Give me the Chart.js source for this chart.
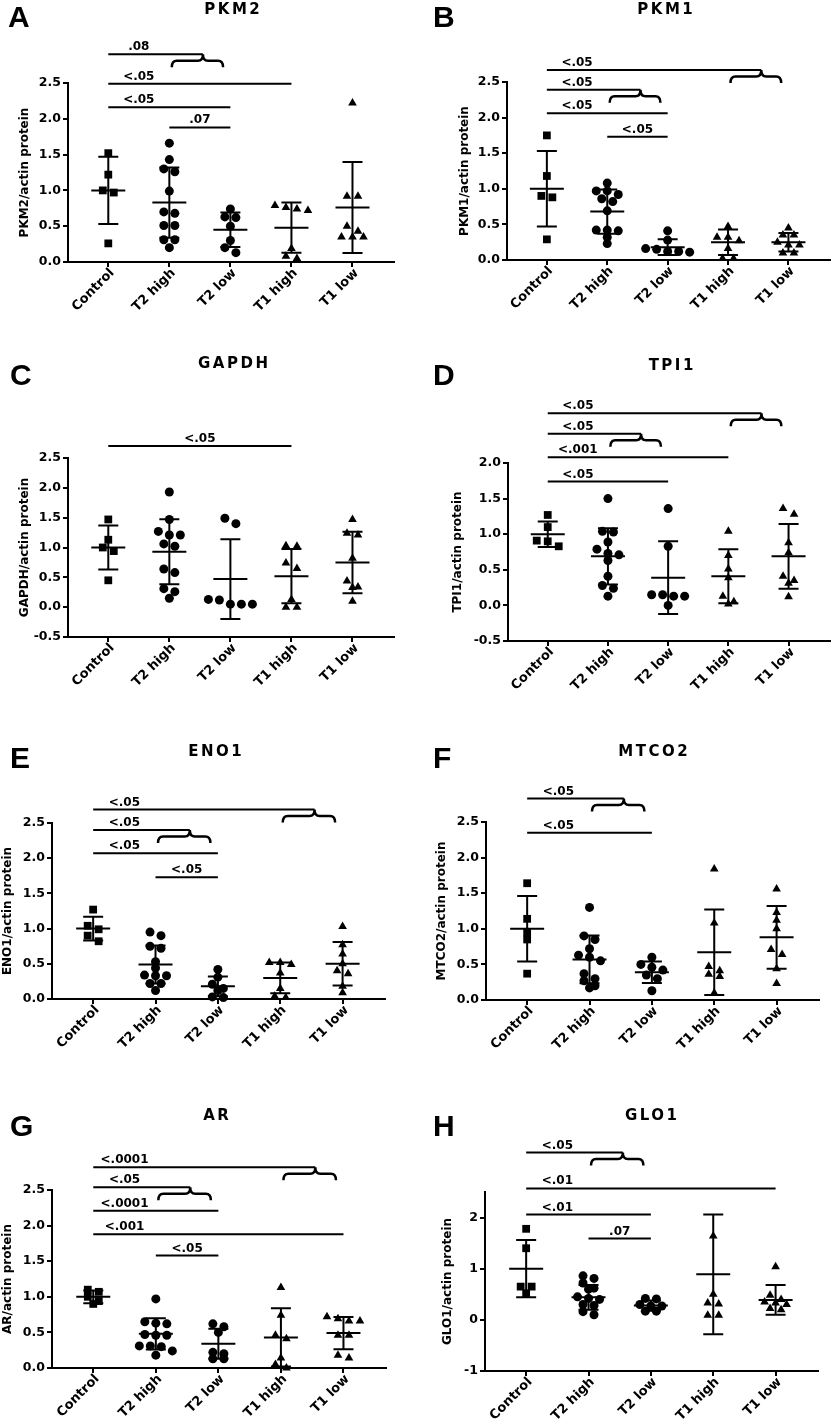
<!DOCTYPE html>
<html>
<head>
<meta charset="utf-8">
<script src="https://cdn.jsdelivr.net/npm/chart.js@4.4.1/dist/chart.umd.min.js"></script>
<style>
html, body { margin: 0; padding: 0; background: #fff; }
body { width: 835px; height: 1420px; position: relative; overflow: hidden; }
canvas { position: absolute; }
.letter { position: absolute; font: bold 30px "Liberation Sans", Arial, sans-serif; line-height: 30px; color: #000; }
.gene { position: absolute; font: bold 15px "DejaVu Sans", sans-serif; letter-spacing: 2.5px; line-height: 15px;
        color: #000; transform: translateX(-50%); white-space: nowrap; padding-left: 2.5px; }
</style>
</head>
<body>
<script>
const groupLabels = ['Control', 'T2 high', 'T2 low', 'T1 high', 'T1 low'];
const groupShapes = ['rect', 'circle', 'circle', 'triangle', 'triangle'];

// PKM2
const pkm2Points = [
    [1.52, 1.22, 1.00, 0.97, 0.26],
    [1.66, 1.43, 1.30, 1.26, 0.99, 0.70, 0.68, 0.51, 0.51, 0.31, 0.31, 0.20],
    [0.74, 0.63, 0.62, 0.50, 0.30, 0.20, 0.13],
    [0.79, 0.76, 0.74, 0.72, 0.19, 0.08, 0.05],
    [2.22, 0.92, 0.92, 0.50, 0.43, 0.35, 0.35, 0.35]
];
const pkm2Mean = [1.00, 0.83, 0.45, 0.48, 0.76];
const pkm2Sd = [0.47, 0.49, 0.24, 0.35, 0.635];
const pkm2Brackets = [[0, [1, 2], 2.90, '.08'], [0, 3, 2.49, '<.05'], [0, 2, 2.16, '<.05'], [1, 2, 1.88, '.07']];

// PKM1
const pkm1Points = [
    [1.75, 1.18, 0.90, 0.88, 0.29],
    [1.08, 0.97, 0.97, 0.92, 0.86, 0.82, 0.69, 0.42, 0.42, 0.41, 0.32, 0.23],
    [0.41, 0.28, 0.16, 0.15, 0.12, 0.12, 0.11],
    [0.47, 0.32, 0.32, 0.27, 0.16, 0.02, 0.02],
    [0.45, 0.35, 0.35, 0.25, 0.21, 0.21, 0.10, 0.10]
];
const pkm1Mean = [1.00, 0.68, 0.18, 0.25, 0.25];
const pkm1Sd = [0.53, 0.31, 0.11, 0.18, 0.13];
const pkm1Brackets = [[0, [3, 4], 2.67, '<.05'], [0, [1, 2], 2.39, '<.05'], [0, 2, 2.06, '<.05'], [1, 2, 1.73, '<.05']];

// GAPDH
const gapdhPoints = [
    [1.47, 1.13, 1.00, 0.94, 0.45],
    [1.93, 1.47, 1.27, 1.21, 1.21, 1.06, 1.02, 0.64, 0.58, 0.31, 0.26, 0.15],
    [1.49, 1.40, 0.13, 0.12, 0.05, 0.05, 0.05],
    [1.03, 1.02, 0.74, 0.65, 0.13, 0.00, 0.00],
    [1.47, 1.24, 1.21, 0.82, 0.44, 0.34, 0.33, 0.10]
];
const gapdhMean = [1.00, 0.93, 0.47, 0.52, 0.75];
const gapdhSd = [0.37, 0.545, 0.67, 0.455, 0.515];
const gapdhBrackets = [[0, 3, 2.70, '<.05']];

// TPI1
const tpi1Points = [
    [1.27, 1.10, 0.91, 0.90, 0.83],
    [1.50, 1.04, 1.03, 0.89, 0.79, 0.73, 0.71, 0.63, 0.41, 0.28, 0.24, 0.13],
    [1.36, 0.83, 0.15, 0.15, 0.13, 0.13, 0.00],
    [1.04, 0.70, 0.51, 0.39, 0.13, 0.05, 0.02],
    [1.36, 1.28, 0.88, 0.74, 0.41, 0.35, 0.31, 0.12]
];
const tpi1Mean = [1.00, 0.69, 0.39, 0.41, 0.69];
const tpi1Sd = [0.18, 0.395, 0.51, 0.38, 0.455];
const tpi1Brackets = [[0, [3, 4], 2.70, '<.05'], [0, [1, 2], 2.41, '<.05'], [0, 3, 2.08, '<.001'], [0, 2, 1.74, '<.05']];

// ENO1
const eno1Points = [
    [1.27, 1.04, 0.99, 0.90, 0.82],
    [0.95, 0.90, 0.75, 0.72, 0.53, 0.44, 0.34, 0.33, 0.33, 0.22, 0.22, 0.12],
    [0.42, 0.31, 0.21, 0.15, 0.12, 0.03, 0.02],
    [0.52, 0.52, 0.49, 0.37, 0.15, 0.04, 0.02],
    [1.03, 0.77, 0.64, 0.50, 0.40, 0.36, 0.18, 0.09]
];
const eno1Mean = [1.00, 0.49, 0.18, 0.30, 0.50];
const eno1Sd = [0.17, 0.27, 0.14, 0.22, 0.31];
const eno1Brackets = [[0, [3, 4], 2.69, '<.05'], [0, [1, 2], 2.40, '<.05'], [0, 2, 2.07, '<.05'], [1, 2, 1.73, '<.05']];

// MTCO2
const mtco2Points = [
    [1.64, 1.14, 0.95, 0.85, 0.37],
    [1.30, 0.90, 0.85, 0.72, 0.63, 0.60, 0.55, 0.37, 0.30, 0.27, 0.20, 0.17],
    [0.60, 0.50, 0.46, 0.42, 0.35, 0.30, 0.13],
    [1.84, 1.08, 0.47, 0.41, 0.36, 0.33, 0.10],
    [1.56, 1.23, 1.12, 1.00, 0.71, 0.64, 0.44, 0.23]
];
const mtco2Mean = [1.00, 0.57, 0.39, 0.67, 0.88];
const mtco2Sd = [0.46, 0.335, 0.15, 0.60, 0.44];
const mtco2Brackets = [[0, [1, 2], 2.83, '<.05'], [0, 2, 2.35, '<.05']];

// AR
const arPoints = [
    [1.10, 1.07, 1.00, 0.94, 0.90],
    [0.97, 0.65, 0.63, 0.62, 0.47, 0.46, 0.46, 0.31, 0.31, 0.30, 0.24, 0.18],
    [0.62, 0.58, 0.50, 0.22, 0.20, 0.13, 0.13],
    [1.13, 0.74, 0.46, 0.41, 0.14, 0.05, 0.00],
    [0.72, 0.69, 0.66, 0.66, 0.46, 0.46, 0.18, 0.14]
];
const arMean = [1.00, 0.48, 0.34, 0.43, 0.49];
const arSd = [0.09, 0.22, 0.21, 0.41, 0.225];
const arBrackets = [[0, [3, 4], 2.82, '<.0001'], [0, [1, 2], 2.54, '<.05'], [0, 2, 2.21, '<.0001'], [0, 4, 1.88, '<.001'], [1, 2, 1.58, '<.05']];

// GLO1
const glo1Points = [
    [1.78, 1.40, 0.65, 0.65, 0.52],
    [0.86, 0.81, 0.72, 0.62, 0.60, 0.45, 0.42, 0.40, 0.30, 0.28, 0.16, 0.10],
    [0.42, 0.41, 0.30, 0.27, 0.27, 0.17, 0.17],
    [1.64, 0.50, 0.33, 0.31, 0.09, 0.09],
    [1.04, 0.48, 0.40, 0.35, 0.33, 0.30, 0.22, 0.20]
];
const glo1Mean = [1.00, 0.44, 0.28, 0.89, 0.39];
const glo1Sd = [0.56, 0.24, 0.10, 1.17, 0.29];
const glo1Brackets = [[0, [1, 2], 3.27, '<.05'], [0, 4, 2.57, '<.01'], [0, 2, 2.06, '<.01'], [1, 2, 1.59, '.07']];

// page layout of each panel: plot box [left, top, right, bottom], y-title centre, letter and title anchors
const panels = [
    { letter: 'A', gene: 'PKM2', points: pkm2Points, mean: pkm2Mean, sd: pkm2Sd, brackets: pkm2Brackets,
      yMin: 0, yMax: 2.5, yStep: 0.5, col: 0, box: [68, 83, 394, 262], titleX: 25, letterAt: [8, 27], geneAt: [232, 15] },
    { letter: 'B', gene: 'PKM1', points: pkm1Points, mean: pkm1Mean, sd: pkm1Sd, brackets: pkm1Brackets,
      yMin: 0, yMax: 2.5, yStep: 0.5, col: 1, box: [507, 82, 833, 260], titleX: 465, letterAt: [433, 27], geneAt: [665, 15] },
    { letter: 'C', gene: 'GAPDH', points: gapdhPoints, mean: gapdhMean, sd: gapdhSd, brackets: gapdhBrackets,
      yMin: -0.5, yMax: 2.5, yStep: 0.5, col: 0, box: [68, 458, 394, 637], titleX: 25, letterAt: [10, 385], geneAt: [233, 369] },
    { letter: 'D', gene: 'TPI1', points: tpi1Points, mean: tpi1Mean, sd: tpi1Sd, brackets: tpi1Brackets,
      yMin: -0.5, yMax: 2.0, yStep: 0.5, col: 1, box: [508, 463, 833, 641], titleX: 458, letterAt: [433, 385], geneAt: [671, 371] },
    { letter: 'E', gene: 'ENO1', points: eno1Points, mean: eno1Mean, sd: eno1Sd, brackets: eno1Brackets,
      yMin: 0, yMax: 2.5, yStep: 0.5, col: 0, box: [52, 823, 385, 999], titleX: 8, letterAt: [10, 768], geneAt: [215, 757] },
    { letter: 'F', gene: 'MTCO2', points: mtco2Points, mean: mtco2Mean, sd: mtco2Sd, brackets: mtco2Brackets,
      yMin: 0, yMax: 2.5, yStep: 0.5, col: 1, box: [486, 822, 819, 1000], titleX: 442, letterAt: [433, 768], geneAt: [653, 757] },
    { letter: 'G', gene: 'AR', points: arPoints, mean: arMean, sd: arSd, brackets: arBrackets,
      yMin: 0, yMax: 2.5, yStep: 0.5, col: 0, box: [52, 1190, 386, 1368], titleX: 8, letterAt: [10, 1136], geneAt: [216, 1121] },
    { letter: 'H', gene: 'GLO1', points: glo1Points, mean: glo1Mean, sd: glo1Sd, brackets: glo1Brackets,
      yMin: -1, yMax: 2.5, yStep: 1, col: 1, box: [485, 1192, 818, 1371], titleX: 448, letterAt: [433, 1136], geneAt: [651, 1121] }
];

const X_MIN = -0.66, X_MAX = 4.68;
const TOP_ROOM = 70, X_AXIS_H = 48, BOTTOM_ROOM = 24;
const ROW_GAP = 6, SPACING = 11;

Chart.defaults.font.family = '"DejaVu Sans", sans-serif';
Chart.defaults.font.weight = 'bold';
Chart.defaults.color = '#000';

function drawBrace(ctx, l, r, tip, y, h) {
    const m = y + h * 0.5, c = 5;
    ctx.beginPath();
    ctx.moveTo(l, y + h);
    ctx.quadraticCurveTo(l, m, l + c, m);
    ctx.lineTo(tip - c, m);
    ctx.quadraticCurveTo(tip, m, tip, y);
    ctx.quadraticCurveTo(tip, m, tip + c, m);
    ctx.lineTo(r - c, m);
    ctx.quadraticCurveTo(r, m, r, y + h);
    ctx.stroke();
}

function extrasPlugin(p) {
    return {
        id: 'extras',
        afterDatasetsDraw(chart) {
            const ctx = chart.ctx, xs = chart.scales.x, ys = chart.scales.y;
            ctx.save();
            ctx.strokeStyle = '#000';
            ctx.lineWidth = 2;
            p.mean.forEach((m, g) => {
                const x = xs.getPixelForValue(g);
                const ym = ys.getPixelForValue(m);
                const yt = ys.getPixelForValue(m + p.sd[g]);
                const yb = ys.getPixelForValue(m - p.sd[g]);
                ctx.beginPath();
                ctx.moveTo(x - 17, ym); ctx.lineTo(x + 17, ym);
                ctx.moveTo(x, yt); ctx.lineTo(x, yb);
                ctx.moveTo(x - 10, yt); ctx.lineTo(x + 10, yt);
                ctx.moveTo(x - 10, yb); ctx.lineTo(x + 10, yb);
                ctx.stroke();
            });
            ctx.restore();
        },
        afterDraw(chart) {
            const ctx = chart.ctx, xs = chart.scales.x, ys = chart.scales.y;
            ctx.save();
            ctx.strokeStyle = '#000';
            ctx.fillStyle = '#000';
            ctx.font = 'bold 12px "DejaVu Sans", sans-serif';
            ctx.textAlign = 'center';
            p.brackets.forEach(([from, to, level, text]) => {
                const y = ys.getPixelForValue(level);
                const x0 = xs.getPixelForValue(from);
                let x1;
                if (Array.isArray(to)) {
                    x1 = xs.getPixelForValue(to[0] + 0.55);
                    ctx.lineWidth = 2.5;
                    drawBrace(ctx, xs.getPixelForValue(to[0] + 0.04), xs.getPixelForValue(to[1] - 0.12), x1, y, 13);
                } else {
                    x1 = xs.getPixelForValue(to);
                }
                ctx.lineWidth = 2;
                ctx.beginPath();
                ctx.moveTo(x0, y);
                ctx.lineTo(x1, y);
                ctx.stroke();
                const lx = p.brackets.length === 1 ? (x0 + x1) / 2 : xs.getPixelForValue(from + 0.5);
                ctx.fillText(text, lx, y - 4);
            });

            // category labels, slanted, ending just under each tick
            const axisY = chart.chartArea.bottom;
            ctx.font = 'bold 13px "DejaVu Sans", sans-serif';
            ctx.textAlign = 'right';
            ctx.textBaseline = 'middle';
            groupLabels.forEach((t, g) => {
                ctx.save();
                ctx.translate(xs.getPixelForValue(g) + 4, axisY + 9);
                ctx.rotate(-Math.PI / 4);
                ctx.fillText(t, 0, 0);
                ctx.restore();
            });
            ctx.restore();
        }
    };
}

// spread points that sit at about the same height side by side
function swarm(chart, groups) {
    const xs = chart.scales.x, ys = chart.scales.y;
    const unit = xs.getPixelForValue(1) - xs.getPixelForValue(0);
    groups.forEach((vals, g) => {
        const order = vals.map((v, i) => i).sort((a, b) => vals[b] - vals[a]);
        const pts = new Array(vals.length);
        let row = [];
        const flush = () => {
            row.forEach((i, k) => {
                pts[i] = { x: g + (k - (row.length - 1) / 2) * SPACING / unit, y: vals[i] };
            });
            row = [];
        };
        order.forEach(i => {
            if (row.length && Math.abs(ys.getPixelForValue(vals[i]) - ys.getPixelForValue(vals[row[0]])) > ROW_GAP) {
                flush();
            }
            row.push(i);
        });
        flush();
        chart.data.datasets[g].data = pts;
    });
    chart.update('none');
}

panels.forEach(p => {
    const cellL = p.col ? 417 : 0;
    const cellW = p.col ? 418 : 417;
    const [L, T, R, B] = p.box;
    const top = T - TOP_ROOM;
    const h = B - top + X_AXIS_H + BOTTOM_ROOM;
    const padL = Math.max(0, Math.round(p.titleX - 7 - cellL));
    const yW = L - cellL - padL;
    const padR = cellL + cellW - R;

    const canvas = document.createElement('canvas');
    canvas.width = cellW;
    canvas.height = h;
    canvas.style.left = cellL + 'px';
    canvas.style.top = top + 'px';
    document.body.appendChild(canvas);

    const letter = document.createElement('div');
    letter.className = 'letter';
    letter.textContent = p.letter;
    letter.style.left = p.letterAt[0] + 'px';
    letter.style.top = (p.letterAt[1] - 25.4) + 'px';
    document.body.appendChild(letter);

    const gene = document.createElement('div');
    gene.className = 'gene';
    gene.textContent = p.gene;
    gene.style.left = p.geneAt[0] + 'px';
    gene.style.top = (p.geneAt[1] - 12.7) + 'px';
    document.body.appendChild(gene);

    const axisLine = { color: '#000', width: 2 };
    const tickGrid = { drawOnChartArea: false, drawTicks: true, tickLength: 5, color: '#000', lineWidth: 2 };

    const chart = new Chart(canvas.getContext('2d'), {
        type: 'scatter',
        data: {
            datasets: p.points.map((vals, g) => ({
                data: vals.map(v => ({ x: g, y: v })),
                pointStyle: groupShapes[g],
                pointRadius: g === 0 ? 5.5 : (g < 3 ? 4.5 : 5),
                backgroundColor: '#000',
                borderWidth: 0,
                clip: false
            }))
        },
        options: {
            responsive: false,
            animation: false,
            events: [],
            layout: { padding: { top: TOP_ROOM, left: padL, right: padR, bottom: BOTTOM_ROOM } },
            plugins: { legend: { display: false }, tooltip: { enabled: false } },
            scales: {
                x: {
                    type: 'linear',
                    min: X_MIN,
                    max: X_MAX,
                    afterFit: s => { s.height = X_AXIS_H; },
                    ticks: {
                        stepSize: 1,
                        includeBounds: false,
                        autoSkip: false,
                        display: false
                    },
                    grid: tickGrid,
                    border: axisLine
                },
                y: {
                    min: p.yMin,
                    max: p.yMax,
                    afterFit: s => { s.width = yW; },
                    ticks: {
                        stepSize: p.yStep,
                        includeBounds: false,
                        padding: 2,
                        font: { size: 12.5, weight: 'bold' },
                        callback: v => p.yStep < 1 ? v.toFixed(1) : String(v)
                    },
                    grid: tickGrid,
                    border: axisLine,
                    title: {
                        display: true,
                        text: p.gene + '/actin protein',
                        font: { size: 12, weight: 'bold' },
                        padding: 0
                    }
                }
            }
        },
        plugins: [extrasPlugin(p)]
    });
    swarm(chart, p.points);
});
</script>
</body>
</html>
